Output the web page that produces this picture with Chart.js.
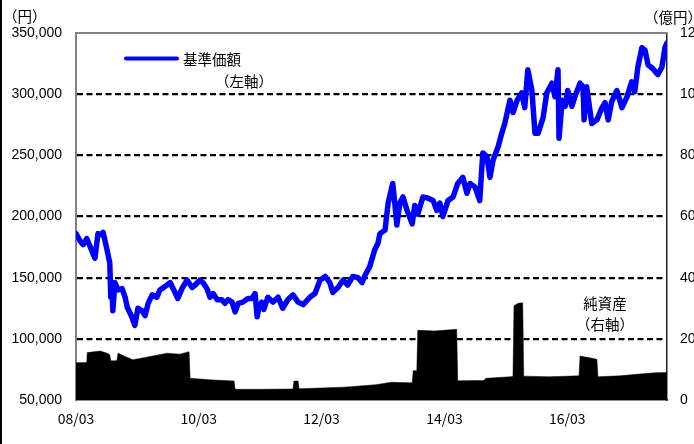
<!DOCTYPE html>
<html>
<head>
<meta charset="utf-8">
<script src="https://cdn.jsdelivr.net/npm/chart.js@4/dist/chart.umd.min.js"></script>
<style>
html,body{margin:0;padding:0;background:#fff;}
#wrap{position:relative;width:694px;height:444px;}
</style>
</head>
<body>
<div id="wrap"><canvas id="c" width="694" height="444"></canvas></div>
<script>
// X axis: months since 2008/03
const xTickMonths = [0, 24, 48, 72, 96];
const xTickLabels = ['08/03', '10/03', '12/03', '14/03', '16/03'];
const xMaxMonth = 115.5;

// 基準価額 (左軸, 円)
const navMonths = [0,0.8,1.4,2.1,2.7,3.7,4.3,5.1,5.3,6.1,6.6,6.8,7.0,7.2,7.6,8.2,9.0,9.6,10.0,10.9,11.5,12.1,12.9,13.5,14.1,14.9,15.8,16.4,17.8,18.4,19.0,19.9,20.7,21.7,22.7,23.3,24.2,24.8,25.6,26.2,26.8,27.6,28.5,29.1,29.7,30.5,31.1,31.7,32.6,33.6,34.4,35.0,35.4,35.8,36.3,36.7,37.5,38.5,39.5,40.4,41.4,42.4,43.4,44.4,45.7,46.7,47.7,48.7,49.6,50.2,51.2,52.2,53.1,54.1,55.1,55.9,56.5,57.4,58.4,59.0,59.4,60.4,61.0,61.9,62.3,62.7,63.3,63.9,64.7,65.7,66.2,66.8,67.8,68.8,69.8,70.5,71.1,71.7,72.7,73.7,74.6,75.6,76.4,77.0,78.0,78.9,79.5,80.3,80.9,81.5,82.5,83.2,83.8,84.8,85.4,86.2,87.1,87.7,88.3,89.1,89.7,90.3,91.3,92.0,93.0,93.6,94.2,94.4,95.0,95.6,96.1,96.9,97.5,98.5,99.1,99.3,99.8,100.8,101.8,102.8,103.4,104.0,104.7,105.7,106.7,107.7,108.6,109.2,109.8,110.6,111.2,111.8,112.7,113.7,114.5,115.1,115.5];
const navValues = [186000,180000,177000,182000,176000,166000,186000,185000,187000,172000,162000,134000,146000,123000,146000,140000,141000,134000,126000,118000,111000,125000,123000,119000,129000,136000,134000,140000,144000,146000,141000,133000,141000,148000,142000,144000,148000,146000,141000,134000,137000,132000,132000,129000,132000,130000,122000,129000,130000,133000,133000,137000,118000,126000,130000,124000,134000,130000,134000,125000,132000,136000,130000,128000,134000,137000,148000,151000,146000,138000,142000,148000,144000,151000,150000,146000,152000,159000,173000,178000,186000,189000,211000,227000,211000,193000,211000,216000,205000,194000,209000,202000,216000,215000,213000,205000,211000,200000,213000,216000,227000,232000,219000,227000,224000,213000,252000,249000,232000,246000,257000,268000,276000,295000,285000,295000,301000,289000,320000,303000,268000,268000,281000,301000,309000,298000,320000,264000,295000,290000,303000,290000,298000,309000,306000,279000,306000,276000,279000,289000,293000,279000,294000,303000,289000,298000,310000,302000,322000,338000,336000,324000,321000,316000,322000,338000,342000];

// 純資産 (右軸, 億円)
const assetMonths = [0,2.1,2.2,4.7,6.1,6.6,6.8,8.0,8.2,9.6,11.1,12.5,15.0,17.8,20.3,22.1,22.3,26.2,30.9,31.1,36.0,42.4,42.6,43.4,43.6,47.7,52.4,55.5,58.6,61.6,65.7,65.9,66.6,66.8,70.1,74.4,74.6,79.7,80.1,85.0,85.4,85.6,86.4,87.3,87.5,92.6,98.3,98.5,100.4,101.8,102.0,106.3,110.2,113.1,115.5];
const assetValues = [12.2,12.3,15.5,16.0,15.3,14.8,12.8,12.8,15.3,14.2,13.2,13.6,14.4,15.3,15.0,15.8,7.1,6.6,6.2,3.5,3.5,3.6,6.2,6.2,3.7,3.9,4.2,4.6,5.0,5.8,5.6,9.6,9.6,22.8,22.6,23.1,6.3,6.4,7.1,7.6,7.8,30.8,31.6,31.8,7.8,7.6,7.9,14.4,13.8,13.3,7.6,7.9,8.5,8.9,9.0];

const leftTicks = {min: 50000, max: 350000, step: 50000};
const rightTicks = {min: 0, max: 120, step: 20};

const navData = navMonths.map((m, i) => ({x: m, y: navValues[i]}));
const assetData = assetMonths.map((m, i) => ({x: m, y: assetValues[i]}));

Chart.defaults.font.family = '"Liberation Sans", Arial, sans-serif';
Chart.defaults.color = '#000';

const deco = {
  id: 'deco',
  afterDraw(chart) {
    const {ctx, chartArea: a} = chart;
    ctx.save();
    ctx.strokeStyle = '#808080';
    ctx.lineWidth = 2;
    ctx.beginPath(); ctx.moveTo(a.left - 1, a.top); ctx.lineTo(a.right, a.top); ctx.stroke();
    ctx.fillStyle = '#000';
    ctx.fillRect(0, 0, 2, chart.height);
    // legend key
    ctx.strokeStyle = '#0000FF';
    ctx.lineWidth = 4;
    ctx.lineCap = 'round';
    ctx.beginPath(); ctx.moveTo(126, 58.5); ctx.lineTo(177, 58.5); ctx.stroke();
    ctx.fillStyle = '#000';
    ctx.font = '14.5px "Noto Sans CJK JP"';
    ctx.textBaseline = 'middle';
    ctx.textAlign = 'left';
    ctx.fillText('基準価額', 183, 59.5);
    ctx.textAlign = 'center';
    ctx.fillText('（左軸）', 244, 81);
    ctx.fillText('純資産', 605, 303);
    ctx.fillText('（右軸）', 605, 324.5);
    ctx.textAlign = 'left';
    ctx.fillText('（円）', 3, 16);
    ctx.fillText('（億円）', 644, 17.5);
    ctx.restore();
  }
};

new Chart(document.getElementById('c'), {
  type: 'line',
  data: {
    datasets: [
      {
        label: '基準価額',
        data: navData,
        yAxisID: 'y',
        borderColor: '#0000FF',
        borderWidth: 5.5,
        pointRadius: 0,
        tension: 0,
        borderJoinStyle: 'round',
        borderCapStyle: 'round',
        fill: false,
        order: 0
      },
      {
        label: '純資産',
        data: assetData,
        yAxisID: 'y1',
        borderColor: '#000',
        borderWidth: 0.5,
        backgroundColor: '#000',
        pointRadius: 0,
        tension: 0,
        fill: 'origin',
        order: 1
      }
    ]
  },
  options: {
    responsive: false,
    animation: false,
    layout: {padding: {top: 33, left: 0, right: 0, bottom: 0}},
    plugins: {legend: {display: false}, tooltip: {enabled: false}},
    scales: {
      x: {
        type: 'linear',
        min: 0,
        max: xMaxMonth,
        grid: {display: false, drawTicks: false},
        border: {display: true, color: '#222', width: 1.5},
        afterBuildTicks: s => { s.ticks = xTickMonths.map(v => ({value: v})); },
        afterFit: s => { s.height = 44; },
        ticks: {
          padding: 10,
          maxRotation: 0,
          autoSkip: false,
          font: {family: '"Noto Sans CJK JP"', size: 14},
          color: '#000',
          callback: v => xTickLabels[xTickMonths.indexOf(v)]
        }
      },
      y: {
        position: 'left',
        min: leftTicks.min,
        max: leftTicks.max,
        afterFit: s => { s.width = 76; },
        grid: {
          drawTicks: false,
          lineWidth: 2.2,
          color: ctx => (ctx.tick && (ctx.tick.value === leftTicks.min || ctx.tick.value === leftTicks.max)) ? 'rgba(0,0,0,0)' : '#000'
        },
        border: {display: true, color: '#808080', width: 2, dash: [6, 3.5]},
        ticks: {
          stepSize: leftTicks.step,
          padding: 14,
          font: {size: 14},
          color: '#000',
          callback: v => v.toLocaleString('en-US')
        }
      },
      y1: {
        position: 'right',
        min: rightTicks.min,
        max: rightTicks.max,
        afterFit: s => { s.width = 27; },
        grid: {display: false, drawTicks: false},
        border: {display: true, color: '#222', width: 1.5},
        ticks: {
          stepSize: rightTicks.step,
          padding: 13,
          font: {size: 14},
          color: '#000'
        }
      }
    }
  },
  plugins: [deco]
});
</script>
</body>
</html>
